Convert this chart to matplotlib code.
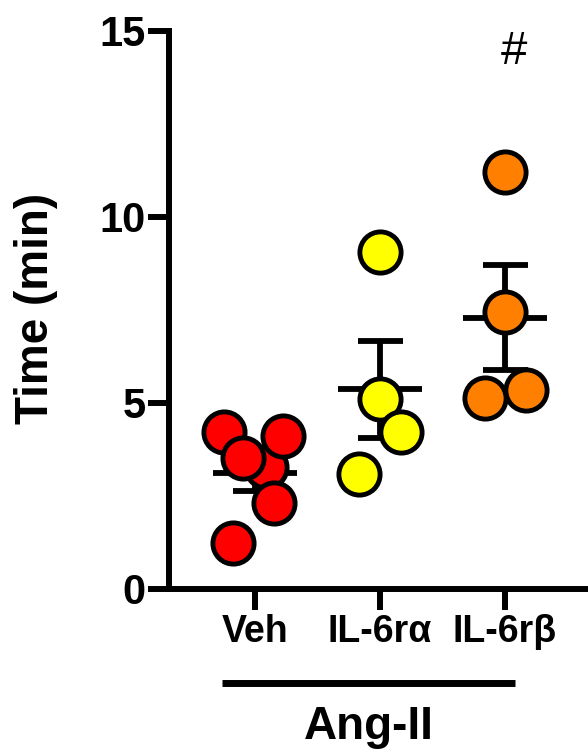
import numpy as np
import matplotlib
matplotlib.use("Agg")
import matplotlib.pyplot as plt
from matplotlib.transforms import blended_transform_factory

plt.rcParams['font.family'] = ['Liberation Sans', 'DejaVu Sans']
plt.rcParams['font.weight'] = 'bold'

# Group labels and measured times (min)
groups = ["Veh", "IL-6rα", "IL-6rβ"]
veh = [3.27, 4.23, 4.11, 3.51, 2.32, 1.23]
il6ra = [9.07, 5.11, 4.22, 3.09]
il6rb = [11.22, 7.45, 5.13, 5.35]
values = [veh, il6ra, il6rb]

# horizontal scatter of points within each group
jitter = [
    [0.088, -0.248, 0.224, -0.096, 0.152, -0.176],
    [0.0, 0.0, 0.168, -0.168],
    [0.0, 0.0, -0.16, 0.168],
]
colors = ["#FF0000", "#FFFF00", "#FF8000"]

fig = plt.figure(figsize=(5.88, 7.53), dpi=100)
ax = fig.add_axes([169 / 588, 1 - 589 / 753, 1 - 169 / 588, (589 - 31) / 753])

lw = 4.2
mean_half = 0.336
cap_half = 0.18
for i, vals in enumerate(values):
    v = np.array(vals)
    m = v.mean()
    sem = v.std(ddof=1) / np.sqrt(len(v))
    ax.plot([i - mean_half, i + mean_half], [m, m], color="black", lw=lw,
            solid_capstyle="butt", zorder=2, clip_on=False)
    ax.plot([i, i], [m - sem, m + sem], color="black", lw=lw,
            solid_capstyle="butt", zorder=2, clip_on=False)
    for y in (m - sem, m + sem):
        ax.plot([i - cap_half, i + cap_half], [y, y], color="black", lw=lw,
                solid_capstyle="butt", zorder=2, clip_on=False)
    for k, (val, dx) in enumerate(zip(vals, jitter[i])):
        ax.scatter([i + dx], [val], s=880, color=colors[i], edgecolors="black",
                   linewidths=3.5, zorder=3 + k * 0.01, clip_on=False)

ax.set_xlim(-0.688, 2.664)
ax.set_ylim(0, 15)
ax.set_yticks([0, 5, 10, 15])
ax.set_xticks(range(len(groups)))
ax.set_xticklabels(groups)

for side in ("top", "right"):
    ax.spines[side].set_visible(False)
for side in ("left", "bottom"):
    ax.spines[side].set_linewidth(4.3)
    ax.spines[side].set_capstyle("projecting")

ax.tick_params(axis="y", length=15, width=4.3, pad=2, labelsize=30)
ax.tick_params(axis="x", length=15, width=4.3, pad=3, labelsize=27)
for lab in ax.get_xticklabels() + ax.get_yticklabels():
    lab.set_fontweight("bold")

fig.text(36 / 588, 1 - 308 / 753, "Time (min)", rotation=90, ha="center",
         va="center", fontsize=33, fontweight="bold")

# treatment bracket below the axis
trans = blended_transform_factory(ax.transData, fig.transFigure)
ax.plot([-0.264, 2.08], [1 - 683 / 753] * 2, color="black", lw=5,
        transform=trans, clip_on=False, solid_capstyle="butt")
ax.text(0.908, 1 - 727 / 753, "Ang-II", transform=trans, ha="center",
        va="center", fontsize=33, fontweight="bold")

ax.text(2.07, 14.43, "#", ha="center", va="center", fontsize=34,
        fontweight="normal")

fig.savefig("out.png", dpi=100)
